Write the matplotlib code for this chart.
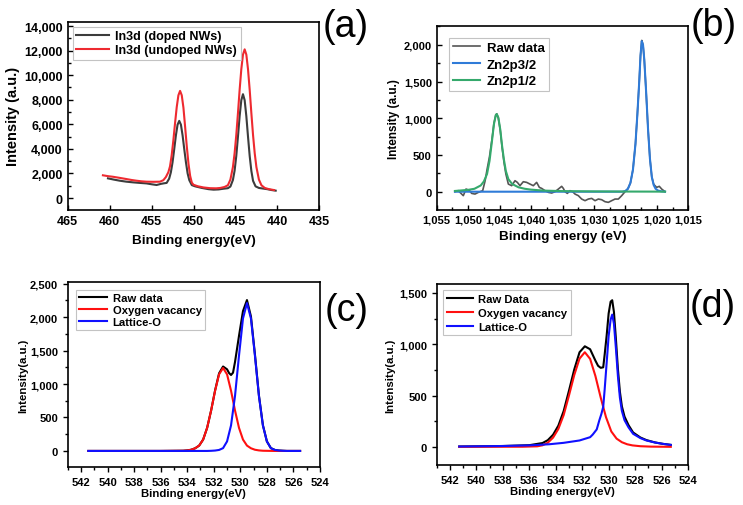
import matplotlib
matplotlib.use("Agg")
import matplotlib.pyplot as plt
from matplotlib.ticker import FuncFormatter, MultipleLocator

plt.rcParams['font.family'] = ['Liberation Sans', 'DejaVu Sans']
plt.rcParams['font.weight'] = 'bold'

# ---------------- (a) In3d
a_doped_e = [460.2, 459.5, 458.8, 458.0, 457.2, 456.4, 455.6, 455.0, 454.4, 453.9, 453.5, 453.2,
             452.9, 452.7, 452.5, 452.3, 452.1, 451.9, 451.7, 451.5, 451.3, 451.1, 450.9, 450.7,
             450.5, 450.2, 449.8, 449.0, 448.2, 447.6, 447.0, 446.4, 445.9, 445.6, 445.3, 445.1,
             444.9, 444.7, 444.5, 444.3, 444.1, 443.9, 443.7, 443.5, 443.3, 443.1, 442.9, 442.6,
             442.2, 441.8, 441.2, 440.7, 440.2]
a_doped_i = [1600, 1500, 1410, 1330, 1275, 1230, 1190, 1120, 1060, 1150, 1200, 1230,
             1580, 2090, 2900, 3970, 5090, 5970, 6280, 5970, 5090, 3970, 2900, 2000,
             1450, 1050, 950, 820, 720, 680, 700, 760, 800, 935, 1470, 2220,
             3420, 4990, 6660, 7960, 8450, 7960, 6660, 4990, 3420, 2200, 1400, 950,
             820, 780, 720, 650, 600]
a_undoped_e = [460.8, 460.2, 459.6, 458.8, 458.0, 457.4, 456.8, 456.2, 455.6, 454.8, 454.0, 453.6,
               453.3, 453.0, 452.8, 452.6, 452.4, 452.2, 452.0, 451.8, 451.6, 451.4, 451.2, 451.0,
               450.8, 450.6, 450.4, 450.2, 450.0, 449.5, 448.8, 448.0, 447.3, 446.8, 446.3, 445.9,
               445.6, 445.3, 445.1, 444.9, 444.7, 444.5, 444.3, 444.1, 443.9, 443.7, 443.5, 443.3,
               443.1, 442.9, 442.7, 442.5, 442.2, 441.9, 441.5, 441.0, 440.4]
a_undoped_i = [1850, 1780, 1730, 1640, 1545, 1470, 1410, 1360, 1330, 1320, 1330, 1450,
               1700, 2100, 2580, 3490, 4700, 6090, 7400, 8360, 8720, 8360, 7350, 5800,
               4200, 2800, 1800, 1250, 1080, 960, 860, 800, 790, 820, 900, 1040,
               1500, 2520, 3640, 5120, 6900, 8800, 10480, 11670, 12100, 11670, 10480, 8800,
               6900, 5120, 3640, 2520, 1500, 1040, 820, 720, 650]

# ---------------- (b) Zn2p
b_raw_e = [1052.1, 1051.56, 1051.03, 1050.77, 1050.34, 1049.81, 1049.44, 1048.91, 1048.38, 1047.69,
           1047.3, 1047.0, 1046.6, 1046.2, 1045.9, 1045.6, 1045.45, 1045.2, 1044.9, 1044.6,
           1044.3, 1044.0, 1043.61, 1043.08, 1042.55, 1042.18, 1041.76, 1041.23, 1040.7, 1040.17,
           1039.64, 1039.11, 1038.68, 1038.31, 1037.78, 1037.25, 1036.72, 1036.19, 1035.66, 1035.13,
           1034.87, 1034.6, 1034.23, 1033.81, 1033.38, 1033.01, 1032.48, 1031.95, 1031.42, 1030.89,
           1030.36, 1029.83, 1029.3, 1028.77, 1028.24, 1027.71, 1027.18, 1026.65, 1026.12, 1025.59,
           1025.06, 1024.6, 1024.2, 1023.8, 1023.4, 1023.1, 1022.8, 1022.6, 1022.4, 1022.2,
           1022.0, 1021.7, 1021.4, 1021.1, 1020.8, 1020.5, 1020.03, 1019.61, 1019.23, 1018.7]
b_raw_i = [0, 14, -32, -54, 36, 18, -23, -32, -9, 14,
           150, 300, 480, 720, 930, 1045, 1060, 1000, 840, 600,
           400, 240, 104, 82, 150, 127, 82, 136, 127, 104,
           82, 127, 59, 45, 14, -9, -18, 0, 36, 73,
           45, 0, -23, 14, 0, -32, -54, -100, -122, -100,
           -91, -122, -100, -109, -136, -145, -122, -100, -100, -54,
           0, 40, 120, 300, 650, 1050, 1500, 1850, 2060, 2000,
           1800, 1350, 850, 450, 200, 100, 59, 73, 36, 0]
b_p32_e = [1052.1, 1040.0, 1025.5, 1025.0, 1024.6, 1024.2, 1023.8, 1023.4, 1023.1, 1022.8,
           1022.6, 1022.4, 1022.2, 1022.0, 1021.7, 1021.4, 1021.1, 1020.8, 1020.5, 1020.2,
           1019.8, 1019.3, 1018.7]
b_p32_i = [0, 0, 0, 10, 40, 120, 300, 650, 1050, 1500,
           1850, 2050, 2000, 1800, 1350, 850, 450, 200, 90, 40,
           15, 5, 0]
b_p12_e = [1052.1, 1050.0, 1049.0, 1048.0, 1047.5, 1047.0, 1046.6, 1046.2, 1045.9, 1045.6,
           1045.45, 1045.2, 1044.9, 1044.6, 1044.3, 1044.0, 1043.6, 1043.0, 1042.0, 1041.0,
           1040.0, 1038.0, 1035.0, 1030.0, 1025.0, 1018.7]
b_p12_i = [10, 25, 40, 85, 140, 240, 420, 700, 920, 1045,
           1057, 1010, 850, 620, 430, 280, 170, 105, 60, 40,
           28, 15, 8, 4, 2, 1]

# ---------------- (c) O1s, undoped
c_raw_e = [541.45, 536.0, 534.3, 534.0, 533.7, 533.4, 533.1, 532.8, 532.5, 532.2,
           531.9, 531.6, 531.3, 531.0, 530.85, 530.7, 530.55, 530.4, 530.1, 529.8,
           529.5, 529.2, 528.9, 528.6, 528.3, 528.0, 527.7, 527.4, 527.1, 526.5, 525.5]
c_raw_i = [0, 0, 3, 8, 18, 40, 80, 170, 345, 604,
           906, 1160, 1262, 1220, 1165, 1135, 1170, 1330, 1720, 2090,
           2255, 2010, 1443, 831, 385, 143, 42, 15, 6, 0, 0]
c_vac_e = [541.45, 536.0, 534.3, 534.0, 533.7, 533.4, 533.1, 532.8, 532.5, 532.2,
           531.9, 531.6, 531.3, 531.0, 530.7, 530.4, 530.1, 529.8, 529.5, 529.2,
           528.9, 528.6, 528.3, 527.5, 525.5]
c_vac_i = [0, 0, 3, 8, 18, 40, 80, 170, 345, 604,
           900, 1145, 1240, 1145, 900, 604, 345, 170, 80, 40,
           18, 8, 3, 0, 0]
c_lat_e = [541.45, 532.5, 532.2, 531.9, 531.6, 531.3, 531.0, 530.7, 530.4, 530.1, 529.8,
           529.5, 529.2, 528.9, 528.6, 528.3, 528.0, 527.7, 527.4, 527.1, 526.8, 526.5, 525.5]
c_lat_i = [0, 0, 2, 6, 15, 42, 142, 382, 823, 1425, 1980,
           2210, 1980, 1425, 823, 382, 142, 42, 15, 6, 2, 0, 0]

# ---------------- (d) O1s, doped
d_raw_e = [541.3, 538.0, 536.0, 535.0, 534.6, 534.2, 533.8, 533.4, 533.0, 532.6,
           532.2, 531.8, 531.4, 531.0, 530.8, 530.6, 530.41, 530.3, 530.15, 530.0,
           529.85, 529.73, 529.6, 529.45, 529.3, 529.15, 529.0, 528.8, 528.5, 528.15,
           527.6, 527.15, 526.5, 525.9, 525.3]
d_raw_i = [3, 8, 16, 37, 65, 118, 207, 349, 547, 754,
           922, 980, 951, 840, 790, 770, 775, 900, 1085, 1300,
           1415, 1429, 1315, 1050, 760, 538, 395, 295, 212, 140,
           91, 66, 43, 29, 19]
d_vac_e = [541.3, 536.5, 535.4, 535.0, 534.6, 534.2, 533.8, 533.4, 533.0, 532.6,
           532.2, 531.8, 531.4, 531.0, 530.6, 530.2, 529.8, 529.4, 529.0, 528.6,
           528.2, 527.6, 526.8, 525.3]
d_vac_i = [0, 1, 5, 15, 40, 90, 175, 310, 500, 700,
           860, 922, 857, 690, 480, 289, 150, 80, 45, 25,
           14, 6, 2, 0]
d_lat_e = [541.3, 538.0, 536.0, 534.5, 533.4, 532.2, 531.4, 531.2, 530.9, 530.7,
           530.55, 530.41, 530.3, 530.15, 530.0, 529.85, 529.73, 529.6, 529.45, 529.3,
           529.15, 529.0, 528.8, 528.5, 528.15, 527.6, 527.15, 526.5, 525.9, 525.3]
d_lat_i = [3, 8, 14, 25, 39, 62, 94, 120, 170, 260,
           320, 390, 560, 820, 1080, 1240, 1289, 1200, 960, 690,
           480, 350, 260, 190, 127, 85, 62, 42, 29, 19]

W, H = 743, 506
fig = plt.figure(figsize=(W / 100, H / 100), dpi=100)

def box(l, t, r, b):
    return [l / W, 1 - b / H, (r - l) / W, (b - t) / H]

comma = FuncFormatter(lambda v, p: f'{v:,.0f}')

def style(ax, tick_dir, tsize):
    for s in ax.spines.values():
        s.set_linewidth(1.2)
    ax.tick_params(which='both', direction=tick_dir, labelsize=tsize, width=1)
    ax.tick_params(which='major', length=3.5)
    ax.tick_params(which='minor', length=2)
    ax.yaxis.set_major_formatter(comma)
    ax.xaxis.set_major_formatter(comma)
    for lab in ax.get_xticklabels() + ax.get_yticklabels():
        lab.set_fontweight('bold')

def legend(ax, size, spacing, hlen, pad):
    lg = ax.legend(loc='upper left', fontsize=size, frameon=True, fancybox=False,
                   labelspacing=spacing, handlelength=hlen, borderpad=0.3,
                   borderaxespad=pad, handletextpad=0.5)
    lg.get_frame().set_edgecolor('#b5b5b5')
    lg.get_frame().set_linewidth(0.8)
    for t in lg.get_texts():
        t.set_fontweight('bold')

# (a)
ax = fig.add_axes(box(67.7, 22.7, 319.3, 210.7))
ax.plot(a_doped_e, a_doped_i, color='#3c3c3c', lw=1.5, label='In3d (doped NWs)')
ax.plot(a_undoped_e, a_undoped_i, color='#ee2a30', lw=1.5, label='In3d (undoped NWs)')
ax.set_xlim(465, 435)
ax.set_ylim(-950, 14350)
ax.xaxis.set_major_locator(MultipleLocator(5))
ax.yaxis.set_major_locator(MultipleLocator(2000))
ax.yaxis.set_minor_locator(MultipleLocator(1000))
style(ax, 'in', 9)
ax.set_xlabel('Binding energy(eV)', fontsize=9.7, fontweight='bold', labelpad=5)
ax.set_ylabel('Intensity (a.u.)', fontsize=10.5, fontweight='bold', labelpad=3)
legend(ax, 9.0, 0.15, 2.6, 0.4)

# (b)
ax = fig.add_axes(box(436.7, 26.7, 688.3, 210.7))
ax.plot(b_raw_e, b_raw_i, color='#555555', lw=1.2, label='Raw data')
ax.plot(b_p32_e, b_p32_i, color='#2f7bd8', lw=1.5, label='Zn2p3/2')
ax.plot(b_p12_e, b_p12_i, color='#35a96c', lw=1.5, label='Zn2p1/2')
ax.set_xlim(1055, 1015)
ax.set_ylim(-245, 2260)
ax.xaxis.set_major_locator(MultipleLocator(5))
ax.xaxis.set_minor_locator(MultipleLocator(2.5))
ax.yaxis.set_major_locator(MultipleLocator(500))
ax.yaxis.set_minor_locator(MultipleLocator(250))
style(ax, 'in', 8)
ax.set_xlabel('Binding energy (eV)', fontsize=9.7, fontweight='bold', labelpad=4)
ax.set_ylabel('Intensity (a.u.)', fontsize=8.5, fontweight='bold', labelpad=3)
legend(ax, 9.5, 0.35, 2.1, 0.9)

# (c)
ax = fig.add_axes(box(67.7, 283, 320, 468))
ax.plot(c_raw_e, c_raw_i, color='black', lw=1.5, label='Raw data')
ax.plot(c_vac_e, c_vac_i, color='#ff1010', lw=1.5, label='Oxygen vacancy')
ax.plot(c_lat_e, c_lat_i, color='#1010ff', lw=1.5, label='Lattice-O')
ax.set_xlim(543, 524)
ax.set_ylim(-240, 2525)
ax.xaxis.set_major_locator(MultipleLocator(2))
ax.xaxis.set_minor_locator(MultipleLocator(1))
ax.yaxis.set_major_locator(MultipleLocator(500))
ax.yaxis.set_minor_locator(MultipleLocator(250))
style(ax, 'out', 8)
ax.set_xlabel('Binding energy(eV)', fontsize=8.2, fontweight='bold', labelpad=1)
ax.set_ylabel('Intensity(a.u.)', fontsize=8.2, fontweight='bold', labelpad=1)
legend(ax, 8.1, 0.15, 2.5, 0.7)

# (d)
ax = fig.add_axes(box(436.7, 284.7, 688, 466.3))
ax.plot(d_raw_e, d_raw_i, color='black', lw=1.5, label='Raw Data')
ax.plot(d_vac_e, d_vac_i, color='#ff1010', lw=1.5, label='Oxygen vacancy')
ax.plot(d_lat_e, d_lat_i, color='#1010ff', lw=1.5, label='Lattice-O')
ax.set_xlim(543, 524)
ax.set_ylim(-180, 1590)
ax.xaxis.set_major_locator(MultipleLocator(2))
ax.xaxis.set_minor_locator(MultipleLocator(1))
ax.yaxis.set_major_locator(MultipleLocator(500))
ax.yaxis.set_minor_locator(MultipleLocator(250))
style(ax, 'out', 8)
ax.set_xlabel('Binding energy(eV)', fontsize=8.2, fontweight='bold', labelpad=1)
ax.set_ylabel('Intensity(a.u.)', fontsize=8.2, fontweight='bold', labelpad=3)
legend(ax, 8.1, 0.35, 2.3, 0.6)

# panel letters
for lab, x, y in [('(a)', 346, 27), ('(b)', 714, 26), ('(c)', 347, 311), ('(d)', 713, 307)]:
    fig.text(x / W, 1 - y / H, lab, fontsize=27, fontweight='normal',
             ha='center', va='center')

fig.savefig('out.png', dpi=100)
